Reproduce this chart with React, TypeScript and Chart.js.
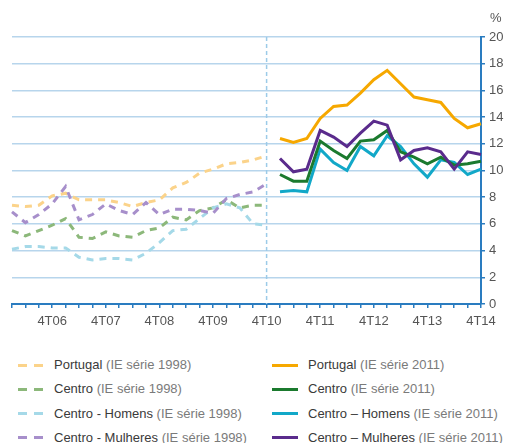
import React, { useEffect, useRef } from 'react';
import { Chart, registerables } from 'chart.js';

Chart.register(...registerables);

const quarters = [
  '1T06', '2T06', '3T06', '4T06', '1T07', '2T07', '3T07', '4T07',
  '1T08', '2T08', '3T08', '4T08', '1T09', '2T09', '3T09', '4T09',
  '1T10', '2T10', '3T10', '4T10', '1T11', '2T11', '3T11', '4T11',
  '1T12', '2T12', '3T12', '4T12', '1T13', '2T13', '3T13', '4T13',
  '1T14', '2T14', '3T14', '4T14',
];
const shownLabels = ['4T06', '4T07', '4T08', '4T09', '4T10', '4T11', '4T12', '4T13', '4T14'];
const breakQuarter = '4T10';

// IE série 1998 (1T06 .. 4T10)
const portugal1998 = [7.4, 7.3, 7.4, 8.1, 8.3, 7.8, 7.8, 7.8, 7.6, 7.3, 7.6, 7.8, 8.7, 9.1, 9.8, 10.1, 10.5, 10.6, 10.8, 11.1];
const centro1998 = [5.5, 5.1, 5.5, 5.9, 6.4, 5.0, 4.9, 5.4, 5.1, 5.0, 5.5, 5.7, 6.5, 6.3, 7.0, 7.2, 7.8, 7.2, 7.4, 7.4];
const homens1998 = [4.1, 4.3, 4.3, 4.2, 4.2, 3.5, 3.3, 3.4, 3.4, 3.3, 3.8, 4.6, 5.5, 5.6, 6.4, 7.2, 7.5, 7.2, 6.0, 5.9];
const mulheres1998 = [6.9, 6.1, 6.7, 7.5, 8.8, 6.3, 6.7, 7.5, 7.0, 6.7, 7.6, 6.7, 7.1, 7.1, 7.0, 6.8, 7.9, 8.2, 8.4, 9.0];

// IE série 2011 (1T11 .. 4T14)
const portugal2011 = [12.4, 12.1, 12.4, 13.9, 14.8, 14.9, 15.8, 16.8, 17.5, 16.5, 15.5, 15.3, 15.1, 13.9, 13.2, 13.5];
const centro2011 = [9.7, 9.2, 9.2, 12.2, 11.5, 10.9, 12.2, 12.3, 13.0, 11.4, 11.0, 10.5, 11.0, 10.4, 10.5, 10.7];
const homens2011 = [8.4, 8.5, 8.4, 11.6, 10.6, 10.0, 11.8, 11.1, 12.6, 11.8, 10.5, 9.5, 10.8, 10.6, 9.7, 10.1];
const mulheres2011 = [10.9, 9.9, 10.1, 13.0, 12.5, 11.8, 12.8, 13.7, 13.4, 10.8, 11.5, 11.7, 11.4, 10.1, 11.4, 11.2];

const yMin = 0;
const yMax = 20;
const yStep = 2;
const unitLabel = '%';

const C = {
  p98: '#fbd38a',
  c98: '#8cb87a',
  h98: '#a5d9e8',
  m98: '#a78fcb',
  p11: '#f6a800',
  c11: '#1b7a2e',
  h11: '#12a8c8',
  m11: '#5a2b8c',
  grid: '#b7d5ec',
  axis: '#2a7cc0',
  text: '#555555',
};

const FONT = '"Liberation Sans", Arial, Helvetica, sans-serif';

const legendItems = [
  { name: 'Portugal', note: '(IE série 1998)', color: C.p98, dashed: true },
  { name: 'Portugal', note: '(IE série 2011)', color: C.p11, dashed: false },
  { name: 'Centro', note: '(IE série 1998)', color: C.c98, dashed: true },
  { name: 'Centro', note: '(IE série 2011)', color: C.c11, dashed: false },
  { name: 'Centro - Homens', note: '(IE série 1998)', color: C.h98, dashed: true },
  { name: 'Centro – Homens', note: '(IE série 2011)', color: C.h11, dashed: false },
  { name: 'Centro - Mulheres', note: '(IE série 1998)', color: C.m98, dashed: true },
  { name: 'Centro – Mulheres', note: '(IE série 2011)', color: C.m11, dashed: false },
];

const pad98 = (a: number[]) => [...a, ...new Array(quarters.length - a.length).fill(null)];
const pad11 = (a: number[]) => [...new Array(quarters.length - a.length).fill(null), ...a];

const extras = {
  id: 'extras',
  beforeDatasetsDraw(chart: any) {
    const { ctx, chartArea, scales } = chart;
    const x = scales.x.getPixelForValue(quarters.indexOf(breakQuarter));
    ctx.save();
    ctx.strokeStyle = '#9ccbe8';
    ctx.lineWidth = 1.5;
    ctx.setLineDash([4, 3]);
    ctx.beginPath();
    ctx.moveTo(x, chartArea.top);
    ctx.lineTo(x, chartArea.bottom);
    ctx.stroke();
    ctx.restore();
  },
  afterDraw(chart: any) {
    const { ctx, chartArea } = chart;
    ctx.save();
    ctx.fillStyle = C.text;
    ctx.font = `13px ${FONT}`;
    ctx.textAlign = 'left';
    ctx.textBaseline = 'middle';
    ctx.fillText(unitLabel, chartArea.right + 9, chartArea.top - 19);
    ctx.restore();
  },
};

export default function App() {
  const ref = useRef<HTMLCanvasElement>(null);

  useEffect(() => {
    const ds = (label: string, data: any[], color: string, dashed: boolean, order: number) => ({
      label,
      data,
      borderColor: color,
      backgroundColor: color,
      borderWidth: 3,
      borderDash: dashed ? [7, 6] : [],
      pointRadius: 0,
      tension: 0,
      spanGaps: false,
      order,
    });
    const chart = new Chart(ref.current!, {
      type: 'line',
      data: {
        labels: quarters,
        datasets: [
          ds('Portugal (IE série 1998)', pad98(portugal1998), C.p98, true, 8),
          ds('Centro (IE série 1998)', pad98(centro1998), C.c98, true, 7),
          ds('Centro - Homens (IE série 1998)', pad98(homens1998), C.h98, true, 6),
          ds('Centro - Mulheres (IE série 1998)', pad98(mulheres1998), C.m98, true, 5),
          ds('Portugal (IE série 2011)', pad11(portugal2011), C.p11, false, 4),
          ds('Centro (IE série 2011)', pad11(centro2011), C.c11, false, 2),
          ds('Centro – Homens (IE série 2011)', pad11(homens2011), C.h11, false, 3),
          ds('Centro – Mulheres (IE série 2011)', pad11(mulheres2011), C.m11, false, 1),
        ],
      },
      options: {
        animation: false,
        responsive: true,
        maintainAspectRatio: false,
        layout: { padding: { left: 12, top: 37, right: 0, bottom: 0 } },
        plugins: { legend: { display: false }, tooltip: { enabled: false } },
        scales: {
          x: {
            type: 'category',
            offset: false,
            grid: {
              drawOnChartArea: false,
              drawTicks: true,
              tickLength: 4,
              color: C.axis,
              tickColor: C.axis,
              lineWidth: 1.5,
            },
            border: { color: C.axis, width: 2 },
            ticks: {
              autoSkip: false,
              maxRotation: 0,
              minRotation: 0,
              padding: 6,
              color: C.text,
              font: { size: 13, family: FONT },
              callback: (_v: any, i: number) => (shownLabels.includes(quarters[i]) ? quarters[i] : ''),
            },
            afterFit: (s: any) => {
              s.height = 36;
            },
          },
          y: {
            position: 'right',
            min: yMin,
            max: yMax,
            grid: {
              color: C.grid,
              lineWidth: 1.5,
              drawTicks: true,
              tickLength: 4,
              tickColor: C.axis,
            },
            border: { color: C.axis, width: 2 },
            ticks: {
              stepSize: yStep,
              padding: 4,
              color: C.text,
              font: { size: 13, family: FONT },
            },
            afterFit: (s: any) => {
              s.width = 28;
            },
          },
        },
      },
      plugins: [extras],
    } as any);
    return () => chart.destroy();
  }, []);

  const rowY = [365, 389.3, 413.6, 437.7];

  return (
    <div
      style={{
        position: 'fixed',
        left: 0,
        top: 0,
        width: 509,
        height: 443,
        background: '#fff',
        fontFamily: FONT,
        overflow: 'hidden',
      }}
    >
      <div style={{ position: 'absolute', left: 0, top: 0, width: 509, height: 340 }}>
        <canvas ref={ref} />
      </div>
      {legendItems.map((it, k) => {
        const col = k % 2;
        const row = Math.floor(k / 2);
        const cy = rowY[row];
        const sampleLeft = col === 0 ? 18 : 272;
        const textLeft = col === 0 ? 54 : 308;
        return (
          <React.Fragment key={k}>
            {it.dashed ? (
              <>
                <div style={{ position: 'absolute', left: sampleLeft, top: cy - 1.5, width: 9, height: 3, background: it.color }} />
                <div style={{ position: 'absolute', left: sampleLeft + 16, top: cy - 1.5, width: 9, height: 3, background: it.color }} />
              </>
            ) : (
              <div style={{ position: 'absolute', left: sampleLeft, top: cy - 1.5, width: 26, height: 3, background: it.color }} />
            )}
            <div
              style={{
                position: 'absolute',
                left: textLeft,
                top: cy - 9,
                height: 18,
                lineHeight: '18px',
                fontSize: 13,
                whiteSpace: 'nowrap',
              }}
            >
              <span style={{ color: '#3a3a3a' }}>{it.name}</span>{' '}
              <span style={{ color: '#7a7a7a' }}>{it.note}</span>
            </div>
          </React.Fragment>
        );
      })}
    </div>
  );
}
